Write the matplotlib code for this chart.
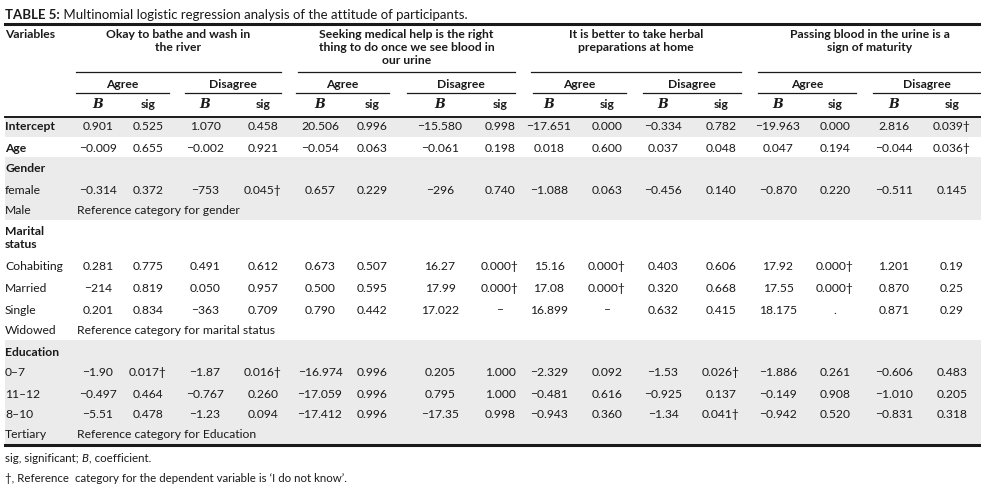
import matplotlib.pyplot as plt
from matplotlib.patches import Rectangle

plt.rcParams['font.family'] = ['Lato', 'DejaVu Sans']

# table content
title_bold = 'TABLE 5:'
title_rest = ' Multinomial logistic regression analysis of the attitude of participants.'
groups = ['Okay to bathe and wash in\nthe river',
          'Seeking medical help is the right\nthing to do once we see blood in\nour urine',
          'It is better to take herbal\npreparations at home',
          'Passing blood in the urine is a\nsign of maturity']
answers = ['Agree', 'Disagree']

intercept = ['0.901', '0.525', '1.070', '0.458', '20.506', '0.996', '\u221215.580', '0.998',
             '\u221217.651', '0.000', '\u22120.334', '0.782', '\u221219.963', '0.000', '2.816', '0.039\u2020']
age = ['\u22120.009', '0.655', '\u22120.002', '0.921', '\u22120.054', '0.063', '\u22120.061', '0.198',
       '0.018', '0.600', '0.037', '0.048', '0.047', '0.194', '\u22120.044', '0.036\u2020']
female = ['\u22120.314', '0.372', '\u2212753', '0.045\u2020', '0.657', '0.229', '\u2212296', '0.740',
          '\u22121.088', '0.063', '\u22120.456', '0.140', '\u22120.870', '0.220', '\u22120.511', '0.145']
cohabiting = ['0.281', '0.775', '0.491', '0.612', '0.673', '0.507', '16.27', '0.000\u2020',
              '15.16', '0.000\u2020', '0.403', '0.606', '17.92', '0.000\u2020', '1.201', '0.19']
married = ['\u2212214', '0.819', '0.050', '0.957', '0.500', '0.595', '17.99', '0.000\u2020',
           '17.08', '0.000\u2020', '0.320', '0.668', '17.55', '0.000\u2020', '0.870', '0.25']
single = ['0.201', '0.834', '\u2212363', '0.709', '0.790', '0.442', '17.022', '\u2013',
          '16.899', '\u2013', '0.632', '0.415', '18.175', '.', '0.871', '0.29']
edu_0_7 = ['\u22121.90', '0.017\u2020', '\u22121.87', '0.016\u2020', '\u221216.974', '0.996', '0.205', '1.000',
           '\u22122.329', '0.092', '\u22121.53', '0.026\u2020', '\u22121.886', '0.261', '\u22120.606', '0.483']
edu_11_12 = ['\u22120.497', '0.464', '\u22120.767', '0.260', '\u221217.059', '0.996', '0.795', '1.000',
             '\u22120.481', '0.616', '\u22120.925', '0.137', '\u22120.149', '0.908', '\u22121.010', '0.205']
edu_8_10 = ['\u22125.51', '0.478', '\u22121.23', '0.094', '\u221217.412', '0.996', '\u221217.35', '0.998',
            '\u22120.943', '0.360', '\u22121.34', '0.041\u2020', '\u22120.942', '0.520', '\u22120.831', '0.318']

# (label, values or reference text, bold)
rows = [
    ('Intercept', intercept, True),
    ('Age', age, True),
    ('Gender', None, True),
    ('female', female, False),
    ('Male', 'Reference category for gender', False),
    ('Marital\nstatus', None, True),
    ('Cohabiting', cohabiting, False),
    ('Married', married, False),
    ('Single', single, False),
    ('Widowed', 'Reference category for marital status', False),
    ('Education', None, True),
    ('0\u20137', edu_0_7, False),
    ('11\u201312', edu_11_12, False),
    ('8\u201310', edu_8_10, False),
    ('Tertiary', 'Reference category for Education', False),
]
row_y = [127, 148, 169, 190, 210, 238, 266, 288, 310, 331, 352, 373, 394, 414, 435]
shaded = [(116, 137), (157, 220), (340, 444)]

col_x = [98, 148, 205, 263, 320, 372, 440, 500, 549, 607, 663, 721, 778, 835, 894, 952]
group_span = [(76, 281), (298, 515), (531, 741), (758, 981)]
answer_span = [(76, 169), (185, 281), (296, 389), (407, 515),
               (533, 626), (643, 741), (758, 856), (873, 981)]

W, H = 981, 488
fig = plt.figure(figsize=(W / 100, H / 100), dpi=100)
ax = fig.add_axes([0, 0, 1, 1])
ax.set_xlim(0, W)
ax.set_ylim(H, 0)
ax.axis('off')

fs = 8.75
fn = 8.25
grey = '#ebebeb'
ink = '#1a1a1a'

for y0, y1 in shaded:
    ax.add_patch(Rectangle((5, y0), W - 5, y1 - y0, color=grey, lw=0, zorder=0))

# title
t = ax.text(5, 15, title_bold, fontsize=9.5, fontweight='bold', va='center', color=ink)
fig.canvas.draw()
ax.text(5 + t.get_window_extent().width, 15, title_rest, fontsize=9.5, va='center', color=ink)

ax.plot([5, W], [24, 24], color=ink, lw=2.2)
ax.plot([5, W], [116.5, 116.5], color=ink, lw=1.4)
ax.plot([5, W], [444.5, 444.5], color=ink, lw=2.2)

# header
ax.text(5, 35, 'Variables', fontsize=fs, fontweight='bold', va='center', color=ink)
for (x0, x1), g in zip(group_span, groups):
    ax.text((x0 + x1) / 2, 29, g, fontsize=fs, fontweight='bold', va='top', ha='center',
            color=ink, linespacing=1.2)
    ax.plot([x0, x1], [72, 72], color=ink, lw=0.9)
for i, (x0, x1) in enumerate(answer_span):
    ax.text((x0 + x1) / 2, 84, answers[i % 2], fontsize=fs, fontweight='bold', va='center',
            ha='center', color=ink)
    ax.plot([x0, x1], [93, 93], color=ink, lw=0.9)
for i, x in enumerate(col_x):
    if i % 2 == 0:
        ax.text(x, 104, 'B', fontsize=9.2, fontstyle='italic', fontweight='bold', va='center',
                ha='center', color=ink, family='DejaVu Serif')
    else:
        ax.text(x, 105, 'sig', fontsize=fs, fontweight='bold', va='center', ha='center', color=ink)

# body
for (label, vals, bold), y in zip(rows, row_y):
    ax.text(5, y, label, fontsize=fs, fontweight='bold' if bold else 'normal',
            va='center', color=ink, linespacing=1.2)
    if isinstance(vals, str):
        ax.text(77, y, vals, fontsize=fs, va='center', color=ink)
    elif vals is not None:
        for x, v in zip(col_x, vals):
            ax.text(x, y, v, fontsize=fs, va='center', ha='center', color=ink)

# footnotes
note = ax.text(5, 458, 'sig, significant; ', fontsize=fn, va='center', color=ink)
fig.canvas.draw()
w1 = note.get_window_extent().width
bi = ax.text(5 + w1, 458, 'B', fontsize=fn, fontstyle='italic', va='center', color=ink)
fig.canvas.draw()
w2 = bi.get_window_extent().width
ax.text(5 + w1 + w2, 458, ', coefficient.', fontsize=fn, va='center', color=ink)
ax.text(5, 478, '\u2020, Reference  category for the dependent variable is \u2018I do not know\u2019.',
        fontsize=fn, va='center', color=ink)

fig.savefig('out.png', dpi=100)
